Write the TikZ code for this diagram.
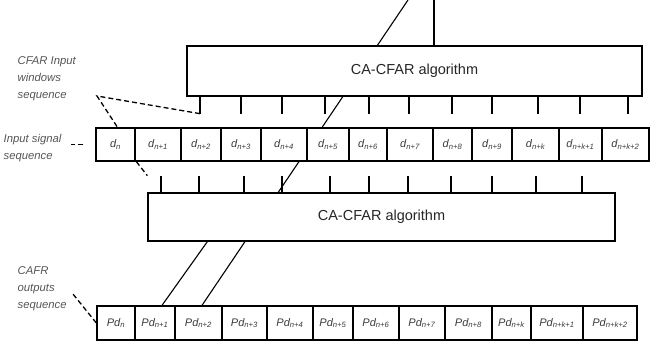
\documentclass[tikz,border=0pt]{standalone}
\usepackage{fontspec}
\setmainfont{Liberation Sans}
\usetikzlibrary{backgrounds}
\definecolor{lblgray}{HTML}{555555}
\definecolor{cellgray}{HTML}{3C3C3C}
\newcommand{\seqsub}[2]{#1\textsubscript{#2}}

\begin{document}
\begin{tikzpicture}[
      x=1pt, y=-1pt, line width=1.3pt,
      cell/.style={
        draw, fill=white, inner sep=0pt,
        font=\itshape\fontsize{11}{12}\selectfont, text=cellgray
      },
      algbox/.style={
        draw, fill=white, inner sep=0pt,
        font=\fontsize{14.5}{17}\selectfont, text=black!85
      },
      sidelabel/.style={
        anchor=west, align=left, inner sep=0pt, text=lblgray,
        font=\itshape\fontsize{11.3}{17}\selectfont
      },
      tickline/.style={line width=1.2pt},
      winline/.style={dash pattern=on 5pt off 3pt, line width=1.3pt}
    ]
    \useasboundingbox (0,0) rectangle (650,345);

    % side labels
    \node[sidelabel] (lbwin) at (17,79) {CFAR Input\\windows\\sequence};
    \node[sidelabel] (lbin) at (3,148) {Input signal\\sequence};
    \node[sidelabel] (lbout) at (17,289) {CAFR\\outputs\\sequence};

    % detector blocks
    \node[algbox, minimum width=455pt, minimum height=50pt] (algA) at (414.5,71) {CA-CFAR algorithm};
    \node[algbox, minimum width=467pt, minimum height=48pt] (algB) at (381.5,217) {CA-CFAR algorithm};

    % input signal sequence
    \foreach \xa/\xb/\s [count=\i from 0] in {96/135/n, 135/181/n+1, 181/221/n+2,
        221/261/n+3, 261/307/n+4, 307/349/n+5, 349/387/n+6, 387/433/n+7,
        433/472/n+8, 472/512/n+9, 512/559/n+k, 559/602/n+k+1, 602/649/n+k+2}
      \node[cell, minimum width={(\xb-\xa)*1pt}, minimum height=33pt]
        (d\i) at ({(\xa+\xb)/2},144.5) {\seqsub{d}{\s}};

    % outputs sequence
    \foreach \xa/\xb/\s [count=\i from 0] in {97/135/n, 135/175/n+1, 175/222/n+2,
        222/267/n+3, 267/313/n+4, 313/353/n+5, 353/399/n+6, 399/445/n+7,
        445/492/n+8, 492/531/n+k, 531/583/n+k+1, 583/637/n+k+2}
      \node[cell, minimum width={(\xb-\xa)*1pt}, minimum height=34pt]
        (pd\i) at ({(\xa+\xb)/2},323) {\seqsub{Pd}{\s}};

    % window taps
    \foreach \x [count=\i] in {200,241,282,325,369,409,452,492,538,580,628}
      \draw[tickline] (algA.south -| \x,0) -- ++(0,17) coordinate (ta\i);
    \foreach \x [count=\i] in {161,199,244,282,330,369,408,451,492,536,582}
      \draw[tickline] (algB.north -| \x,0) -- ++(0,-16) coordinate (tb\i);

    % window marks
    \coordinate (wapex) at (97,96);
    \draw[winline] (ta1) -- (wapex) -- ([xshift=2pt]d0.north);
    \draw[winline] ([xshift=2pt]d1.south west) -- ++(11,14);
    \draw[winline, shorten <=12pt] (d0.west) -- ++(-24,0);
    \draw[winline] (pd0.west) -- ++(-25,-31);

    % feed lines
    \begin{pgfonlayer}{background}
      \coordinate (feedin) at (408,0);
      \draw[line width=1.1pt] (feedin) -- ([xshift=3.5pt]pd2.north);
    \end{pgfonlayer}
    \coordinate (feedout) at (434,0);
    \draw[line width=1.1pt] (feedout) -- (feedout |- algA.north);
    \draw[line width=1.1pt] ([xshift=60pt]algB.south west) -- ([xshift=7pt]pd1.north);
  \end{tikzpicture}
\end{document}
